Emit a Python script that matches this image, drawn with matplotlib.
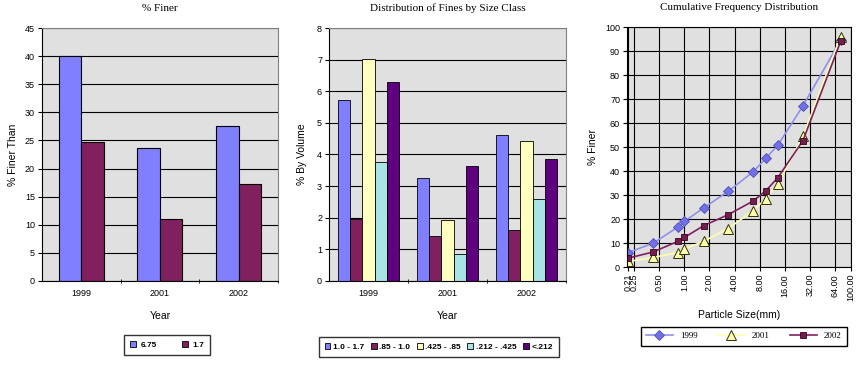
import numpy as np
import matplotlib.pyplot as plt
from matplotlib.patches import Patch

# Данные
years = ["1999", "2001", "2002"]

finer_675 = [40.0, 23.6, 27.5]
finer_17 = [24.7, 11.1, 17.2]

size_classes = ["1.0 - 1.7", ".85 - 1.0", ".425 - .85", ".212 - .425", "<.212"]
fines_1999 = [5.72, 1.97, 7.02, 3.75, 6.30]
fines_2001 = [3.25, 1.43, 1.93, 0.85, 3.63]
fines_2002 = [4.63, 1.62, 4.44, 2.59, 3.87]

particle_size = [0.212, 0.425, 0.85, 1.0, 1.7, 3.35, 6.7, 9.5, 13.2, 26.5, 75.0]
cum_1999 = [6.0, 10.0, 16.8, 19.0, 24.6, 31.5, 39.7, 45.3, 50.7, 67.2, 94.5]
cum_2001 = [2.3, 4.0, 6.0, 7.5, 10.7, 16.0, 23.5, 28.5, 34.5, 54.5, 96.0]
cum_2002 = [3.7, 6.3, 10.8, 12.3, 17.2, 21.8, 27.5, 31.8, 37.2, 52.7, 94.0]

size_ticks = [0.21, 0.25, 0.5, 1, 2, 4, 8, 16, 32, 64, 100]

bar_colors = ["#7F7FFF", "#80205F", "#FFFFC0", "#A8E4E4", "#5F0080"]
bg = "#E0E0E0"
serif = ["Liberation Serif", "DejaVu Serif"]
sans = ["Liberation Sans", "DejaVu Sans"]

plt.rcParams['font.family'] = sans

fig = plt.figure(figsize=(8.67, 3.79), dpi=100)


def style_bar_axes(ax, ymax, ystep):
    ax.set_facecolor(bg)
    ax.set_xlim(-0.5, 2.5)
    ax.set_ylim(0, ymax)
    ax.set_yticks(np.arange(0, ymax + 0.01, ystep))
    ax.yaxis.grid(True, color="black", linewidth=0.8)
    ax.set_axisbelow(True)
    ax.set_xticks(range(3))
    ax.set_xticklabels(years)
    ax.set_xticks([0.5, 1.5, 2.5], minor=True)
    ax.tick_params(axis="x", which="major", length=0, labelsize=6.5, pad=6)
    ax.tick_params(axis="x", which="minor", length=3, direction="inout")
    ax.tick_params(axis="y", length=3, labelsize=6.5, pad=2)
    for s in ax.spines.values():
        s.set_color("#808080")
        s.set_linewidth(0.8)
    ax.spines["left"].set_color("black")
    ax.spines["bottom"].set_color("black")
    ax.set_xlabel("Year", fontsize=7.5, labelpad=9)


# График 1
ax1 = fig.add_axes([0.0484, 0.2586, 0.2722, 0.6675])
x = np.arange(3)
w = 1 / 3.5
ax1.bar(x - w / 2, finer_675, w, color=bar_colors[0], edgecolor="black", linewidth=0.8, label="6.75")
ax1.bar(x + w / 2, finer_17, w, color=bar_colors[1], edgecolor="black", linewidth=0.8, label="1.7")
style_bar_axes(ax1, 45, 5)
ax1.set_ylabel("% Finer Than", fontsize=7.5, labelpad=5)
ax1.set_title("% Finer", fontsize=8, family=serif, pad=12)
h1 = [Patch(facecolor=c, edgecolor="black", linewidth=0.6) for c in bar_colors[:2]]
fig.legend(h1, ["6.75", "1.7"], loc="center", bbox_to_anchor=(0.193, 0.09),
           ncol=2, prop={"weight": "bold", "size": 6}, frameon=True, fancybox=False,
           edgecolor="black", handlelength=0.7, handleheight=0.7, columnspacing=3,
           handletextpad=0.6, borderpad=0.7, borderaxespad=0)

# График 2
ax2 = fig.add_axes([0.3795, 0.2586, 0.2734, 0.6675])
fines = np.array([fines_1999, fines_2001, fines_2002])
w2 = 1 / 6.5
for i, name in enumerate(size_classes):
    ax2.bar(x + (i - 2) * w2, fines[:, i], w2, color=bar_colors[i], edgecolor="black",
            linewidth=0.6, label=name)
style_bar_axes(ax2, 8, 1)
ax2.set_ylabel("% By Volume", fontsize=7.5, labelpad=7)
ax2.set_title("Distribution of Fines by Size Class", fontsize=8, family=serif, pad=12)
h2 = [Patch(facecolor=c, edgecolor="black", linewidth=0.6) for c in bar_colors]
fig.legend(h2, size_classes, loc="center", bbox_to_anchor=(0.506, 0.084),
           ncol=5, prop={"weight": "bold", "size": 6}, frameon=True, fancybox=False,
           edgecolor="black", handlelength=0.7, handleheight=0.7, columnspacing=0.8,
           handletextpad=0.3, borderpad=0.7, borderaxespad=0)

# График 3
ax3 = fig.add_axes([0.7232, 0.2955, 0.2584, 0.6332])
ax3.set_facecolor(bg)
ax3.set_xscale("log")
ax3.plot(particle_size, cum_1999, color="#9090F0", linewidth=1.2, marker="D", markersize=5,
         markerfacecolor="#7070E8", markeredgecolor="#5050B0", markeredgewidth=0.6, label="1999")
ax3.plot(particle_size, cum_2001, color="#FFFFB0", linewidth=1.2, marker="^", markersize=7,
         markerfacecolor="#FFFFB0", markeredgecolor="#303000", markeredgewidth=0.7, label="2001")
ax3.plot(particle_size, cum_2002, color="#80205F", linewidth=1.2, marker="s", markersize=4.5,
         markerfacecolor="#70204F", markeredgecolor="#400020", markeredgewidth=0.6, label="2002")
ax3.set_xlim(0.205, 100)
ax3.set_ylim(0, 100)
ax3.set_xticks(size_ticks)
ax3.set_xticklabels([f"{t:.2f}" for t in size_ticks], rotation=90)
ax3.minorticks_off()
ax3.set_yticks(np.arange(0, 101, 10))
ax3.grid(True, color="black", linewidth=0.8)
ax3.set_axisbelow(True)
ax3.tick_params(labelsize=6.5, length=3, pad=2)
for s in ax3.spines.values():
    s.set_color("black")
    s.set_linewidth(0.8)
ax3.set_xlabel("Particle Size(mm)", fontsize=7.5, labelpad=6)
ax3.set_ylabel("% Finer", fontsize=7.5, labelpad=5)
ax3.set_title("Cumulative Frequency Distribution", fontsize=8, family=serif, pad=12)
ax3.legend(loc="center", bbox_to_anchor=(0.858, 0.113), bbox_transform=fig.transFigure,
           ncol=3, prop={"family": serif, "size": 6.5}, frameon=True, fancybox=False,
           edgecolor="black", handlelength=3, columnspacing=2.2, handletextpad=0.8,
           borderpad=0.6, borderaxespad=0, framealpha=1)

fig.savefig("out.png", dpi=100)
